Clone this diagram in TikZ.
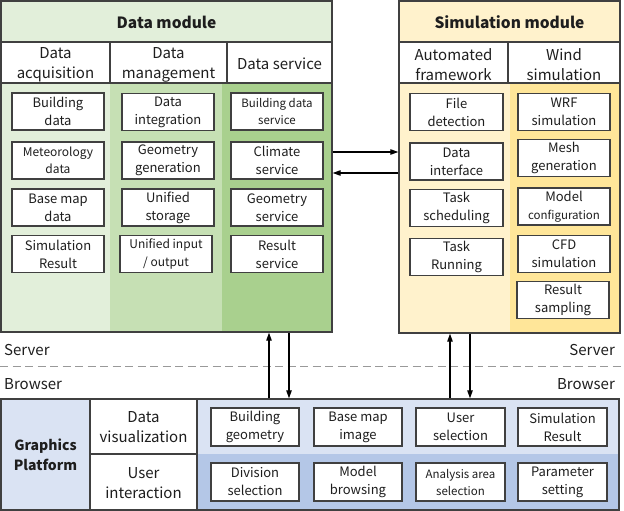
\documentclass[tikz,border=0pt]{standalone}
\usepackage{fontspec}
\setmainfont{Noto Sans CJK SC}
\usetikzlibrary{arrows.meta}
\definecolor{gA}{HTML}{E2EFDA}
\definecolor{gB}{HTML}{C6E0B4}
\definecolor{gC}{HTML}{A9D08E}
\definecolor{yA}{HTML}{FFF2CC}
\definecolor{yB}{HTML}{FFE699}
\definecolor{bA}{HTML}{DAE3F3}
\definecolor{bB}{HTML}{B4C7E7}
\definecolor{edge}{HTML}{404040}
\definecolor{ink}{HTML}{1E1E1E}
\begin{document}
\begin{tikzpicture}[x=1pt,y=-1pt,
  every node/.style={text=ink},
  item/.style={draw=edge, line width=1.1pt, fill=white, inner sep=0pt, align=center,
    font=\fontsize{13}{18}\selectfont, minimum height=37pt, minimum width=92pt},
  smallitem/.style={item, font=\fontsize{11.5}{17}\selectfont},
  head/.style={align=center, font=\fontsize{15}{20}\selectfont, inner sep=0pt},
  title/.style={align=center, font=\fontsize{15.5}{20}\selectfont\bfseries, inner sep=0pt},
  frame/.style={draw=edge, line width=1.4pt, inner sep=0pt, fill=none},
  divline/.style={draw=edge, line width=1.1pt},
  side/.style={font=\fontsize{15}{18}\selectfont, inner sep=0pt},
  arr/.style={draw=black, line width=1.1pt, -{Triangle[length=8pt,width=5.5pt]}},
  sepline/.style={draw=gray!80, line width=1pt, dash pattern=on 8pt off 4.5pt}
]
\useasboundingbox (0,0) rectangle (624,511);

% ---------- Data module backgrounds
\fill[gA] (1,1) rectangle (332,42);
\fill[white] (1,42) rectangle (332,83);
\fill[gA] (1,83) rectangle (110,332);
\fill[gB] (110,83) rectangle (222,332);
\fill[gC] (222,83) rectangle (332,332);
\draw[divline] (1,42) -- (332,42);
\draw[divline] (1,83) -- (332,83);
\draw[divline] (110,42) -- (110,83);
\draw[divline] (227,42) -- (227,83);

% ---------- Simulation module backgrounds
\fill[yA] (399,1) rectangle (620,42);
\fill[white] (399,42) rectangle (620,83);
\fill[yA] (399,83) rectangle (510,333);
\fill[yB] (510,83) rectangle (620,333);
\draw[divline] (399,42) -- (620,42);
\draw[divline] (399,83) -- (620,83);
\draw[divline] (508,42) -- (508,83);

% ---------- Graphics platform backgrounds
\fill[bA] (1,399) rectangle (90,510);
\fill[white] (90,399) rectangle (197,510);
\fill[bA] (197,399) rectangle (619,454);
\fill[bB] (197,454) rectangle (619,510);
\draw[divline] (90,399) -- (90,510);
\draw[divline] (197,399) -- (197,510);
\draw[divline] (90,454) -- (197,454);

% ---------- frames
\node[frame, minimum width=331pt, minimum height=331pt] (dm) at (166.5,166.5) {};
\node[frame, minimum width=221pt, minimum height=332pt] (sm) at (509.5,167) {};
\node[frame, minimum width=618pt, minimum height=111pt] (gp) at (310,454.5) {};

% ---------- titles and headers
\node[title] (dmt) at (166.5,22.5) {Data module};
\node[title] (smt) at (509.5,22.5) {Simulation module};
\node[head] (h1) at (55.5,64.5) {Data\\acquisition};
\node[head] (h2) at (168.5,64.5) {Data\\management};
\node[head] (h3) at (279.5,64) {Data service};
\node[head] (h4) at (453.5,64.5) {Automated\\framework};
\node[head] (h5) at (564,64.5) {Wind\\simulation};

% ---------- data module items
\node[item] (a1) at (58,111.5) {Building\\data};
\node[smallitem, font=\fontsize{12}{17.5}\selectfont] (a2) at (58,160.5) {Meteorology\\data};
\node[item] (a3) at (58,207.5) {Base map\\data};
\node[item] (a4) at (58,254) {Simulation\\Result};
\node[item] (b1) at (168,112) {Data\\integration};
\node[item] (b2) at (168,160.5) {Geometry\\generation};
\node[item] (b3) at (168,207.5) {Unified\\storage};
\node[smallitem, font=\fontsize{12}{17.5}\selectfont] (b4) at (166,254) {Unified input\\/ output};
\node[smallitem] (c1) at (277,111.5) {Building data\\service};
\node[item] (c2) at (277,160.5) {Climate\\service};
\node[item] (c3) at (277,207.5) {Geometry\\service};
\node[item] (c4) at (277,254) {Result\\service};

% ---------- simulation module items
\node[item, minimum width=93pt] (s1) at (456.5,112) {File\\detection};
\node[item, minimum width=93pt] (s2) at (456.5,161.5) {Data\\interface};
\node[item, minimum width=93pt] (s3) at (456.5,208) {Task\\scheduling};
\node[item, minimum width=93pt] (s4) at (456.5,257) {Task\\Running};
\node[item] (w1) at (564,112) {WRF\\simulation};
\node[item] (w2) at (564,158) {Mesh\\generation};
\node[item] (w3) at (564,206.5) {Model\\{\fontsize{11.5}{17}\selectfont configuration}};
\node[item] (w4) at (564,254) {CFD\\simulation};
\node[item] (w5) at (563,300) {Result\\sampling};

% ---------- graphics platform
\node[title, font=\fontsize{14}{20}\selectfont\bfseries] (gpt) at (45.5,455) {Graphics\\Platform};
\node[head] (g1) at (143.5,427.5) {Data\\visualization};
\node[head] (g2) at (143.5,483) {User\\interaction};
\node[item, minimum width=88pt, minimum height=38pt] (p1) at (255,427) {Building\\geometry};
\node[item, minimum width=88pt, minimum height=38pt] (p2) at (358,427) {Base map\\image};
\node[item, minimum width=89pt, minimum height=38pt] (p3) at (460.5,427) {User\\selection};
\node[item, minimum width=89pt, minimum height=38pt] (p4) at (562.5,427) {Simulation\\Result};
\node[item, minimum width=88pt, minimum height=38pt] (q1) at (255,482) {Division\\selection};
\node[item, minimum width=88pt, minimum height=38pt] (q2) at (358,482) {Model\\browsing};
\node[smallitem, minimum width=89pt, minimum height=38pt] (q3) at (460.5,482) {Analysis area\\selection};
\node[item, minimum width=89pt, minimum height=38pt] (q4) at (562.5,482) {Parameter\\setting};

% ---------- server / browser
\draw[sepline] (0,366) -- (624,366);
\node[side, anchor=west] (sv1) at (4,350) {Server};
\node[side, anchor=west] (br1) at (4,384) {Browser};
\node[side, anchor=east] (sv2) at (615,350) {Server};
\node[side, anchor=east] (br2) at (615,384) {Browser};

% ---------- connectors
\draw[arr] (dm.east |- 0,152) -- (sm.west |- 0,152);
\draw[arr] (sm.west |- 0,173) -- (dm.east |- 0,173);
\draw[arr] (269,0 |- gp.north) -- (269,0 |- dm.south);
\draw[arr] (289,0 |- dm.south) -- (289,0 |- gp.north);
\draw[arr] (450,0 |- gp.north) -- (450,0 |- sm.south);
\draw[arr] (470,0 |- sm.south) -- (470,0 |- gp.north);
\end{tikzpicture}
\end{document}
